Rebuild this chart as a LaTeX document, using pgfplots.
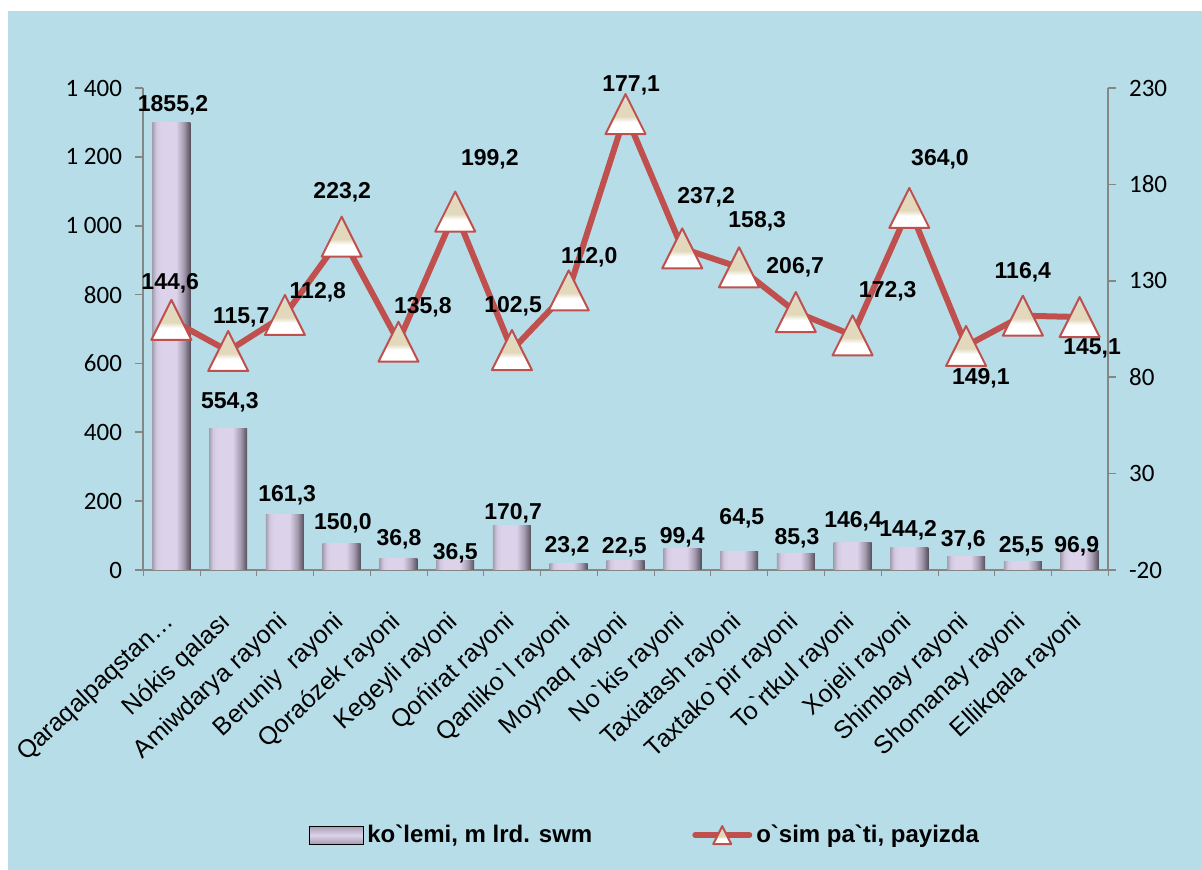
\documentclass[border=0pt]{standalone}
\usepackage{pgfplots}
\pgfplotsset{compat=1.18}
\usepackage{fontspec}
\setmainfont{Liberation Sans}
\newfontfamily\carlito{Carlito}
\definecolor{bgblue}{HTML}{B7DDE8}
\definecolor{linered}{HTML}{C0504D}
\definecolor{axgray}{HTML}{868686}
\definecolor{bA}{HTML}{A59FB0}
\definecolor{bB}{HTML}{D2C8E0}
\definecolor{bC}{HTML}{DCD2EA}
\definecolor{bD}{HTML}{A69DB2}
\definecolor{bE}{HTML}{55505C}
\definecolor{mbeige}{HTML}{E2D8BC}
\definecolor{mblue}{HTML}{C8E6EE}
\pgfdeclarehorizontalshading{barshade}{100bp}{color(0bp)=(bA); color(25bp)=(bA); color(30bp)=(bB); color(36bp)=(bC); color(56bp)=(bC); color(66bp)=(bD); color(75bp)=(bE); color(100bp)=(bE)}
\pgfdeclareverticalshading{markshade}{100bp}{color(0bp)=(white); color(25bp)=(white); color(40bp)=(white); color(47bp)=(mbeige); color(62bp)=(mbeige); color(75bp)=(mblue); color(100bp)=(mblue)}
\pgfdeclareplotmark{xltri}{%
  \pgfpathmoveto{\pgfqpoint{0pt}{\pgfplotmarksize}}%
  \pgfpathlineto{\pgfqpoint{\pgfplotmarksize}{-\pgfplotmarksize}}%
  \pgfpathlineto{\pgfqpoint{-\pgfplotmarksize}{-\pgfplotmarksize}}%
  \pgfpathclose
  \pgfshadepath{markshade}{0}%
  \pgfpathmoveto{\pgfqpoint{0pt}{\pgfplotmarksize}}%
  \pgfpathlineto{\pgfqpoint{\pgfplotmarksize}{-\pgfplotmarksize}}%
  \pgfpathlineto{\pgfqpoint{-\pgfplotmarksize}{-\pgfplotmarksize}}%
  \pgfpathclose
  \pgfusepathqstroke
}
\pgfplotsset{
  linelegend/.style={legend image code/.code={%
    \draw[##1, mark=none, line cap=round] (0pt,0pt) -- (27pt,0pt);
    \draw[##1, mark size=4.5pt] plot coordinates {(13.5pt,0pt)};}},
  barlegend/.style={legend image code/.code={%
    \fill[top color=bA, bottom color=bD, middle color=bC] (0pt,-4.5pt) rectangle (27pt,4.5pt);}},
  barsty/.style={draw=none, shade, shading=barshade},
}
\newcommand{\bt}{\textasciigrave}
\begin{document}
\begin{tikzpicture}
\fill[white] (-71.5pt,-150pt) rectangle (529.5pt,285pt);
\fill[bgblue] (-67.5pt,-150pt) rectangle (529.5pt,279.5pt);
\begin{axis}[
  scale only axis, width=482.5pt, height=241pt,
  xmin=-0.5, xmax=16.5, ymin=0, ymax=1400,
  axis y line*=left, axis x line*=bottom,
  axis line style={axgray, line width=0.8pt},
  ytick={0,200,...,1400},
  xtick={0,...,16},
  xticklabels={Qaraqalpaqstan…, Nókis qalası, Amiwdarya rayoni, Beruniy\ \ rayoni, Qoraózek rayoni, Kegeyli rayoni, Qońirat rayoni, Qanliko\bt l rayoni, Moynaq rayoni, No\bt kis rayoni, Taxiatash rayoni, Taxtako\bt pir rayoni, To\bt rtkul rayoni, Xojeli rayoni, Shimbay rayoni, Shomanay rayoni, Ellikqala rayoni},
  major x tick style={draw=none},
  minor xtick={-0.5,0.5,...,16.5},
  minor tick length=3pt,
  minor x tick style={axgray},
  tick align=outside,
  major tick length=4pt,
  ytick style={axgray, line width=0.8pt},
  /pgf/number format/assume math mode=true,
  /pgf/number format/1000 sep={\ },
  yticklabel style={font=\carlito\fontsize{12.5}{14}\selectfont, xshift=-3pt},
  xticklabel style={font=\fontsize{12.5}{14}\selectfont, yshift=-18pt, xshift=2pt, rotate=43, anchor=east},
  clip=false,
  ybar, bar width=19pt, bar shift=0pt,
]
\addplot[barsty] coordinates {(0,1300)};
\addplot[barsty] coordinates {(1,412)};
\addplot[barsty] coordinates {(2,160)};
\addplot[barsty] coordinates {(3,78)};
\addplot[barsty] coordinates {(4,32)};
\addplot[barsty] coordinates {(5,29)};
\addplot[barsty] coordinates {(6,129)};
\addplot[barsty] coordinates {(7,19)};
\addplot[barsty] coordinates {(8,27)};
\addplot[barsty] coordinates {(9,62)};
\addplot[barsty] coordinates {(10,55)};
\addplot[barsty] coordinates {(11,49)};
\addplot[barsty] coordinates {(12,81)};
\addplot[barsty] coordinates {(13,64)};
\addplot[barsty] coordinates {(14,38)};
\addplot[barsty] coordinates {(15,24)};
\addplot[barsty] coordinates {(16,58)};
\begin{scope}[font=\bfseries\fontsize{11.5}{13}\selectfont]
\node at (axis cs:0.03,1350.6) {1855,2};
\node at (axis cs:1.03,488) {554,3};
\node at (axis cs:2.04,218) {161,3};
\node at (axis cs:3.02,136.5) {150,0};
\node at (axis cs:4.01,90) {36,8};
\node at (axis cs:5.00,49) {36,5};
\node at (axis cs:6.02,165.6) {170,7};
\node at (axis cs:6.97,70) {23,2};
\node at (axis cs:7.98,67) {22,5};
\node at (axis cs:9.0,96) {99,4};
\node at (axis cs:10.05,151) {64,5};
\node at (axis cs:11.02,93) {85,3};
\node at (axis cs:12.01,142) {146,4};
\node at (axis cs:12.98,116) {144,2};
\node at (axis cs:13.95,87) {37,6};
\node at (axis cs:14.97,70) {25,5};
\node at (axis cs:15.95,70) {96,9};
\end{scope}
\end{axis}
\begin{axis}[
  scale only axis, width=482.5pt, height=241pt,
  xmin=-0.5, xmax=16.5, ymin=-20, ymax=230,
  axis y line*=right, axis x line=none,
  axis line style={axgray, line width=0.8pt},
  ytick={-20,30,...,230},
  tick align=outside,
  major tick length=4pt,
  ytick style={axgray, line width=0.8pt},
  /pgf/number format/assume math mode=true,
  yticklabel style={font=\carlito\fontsize{12.5}{14}\selectfont, xshift=3pt},
  clip=false,
  legend columns=2,
  legend style={at={(0.521,-0.55)}, anchor=center, draw=none, fill=none,
    font=\bfseries\fontsize{12}{14}\selectfont,
    /tikz/every even column/.append style={column sep=48pt}},
]
\addlegendimage{barlegend}
\addlegendentry{ko\bt lemi, m lrd. swm}
\addplot[linered, line width=3pt, line join=round, mark=xltri, mark size=10pt,
  mark options={draw=linered, line width=1pt, solid}, linelegend]
 coordinates {
 (0,109.7) (1,93.6) (2,112.3) (3,152.9) (4,98.4) (5,165.9) (6,94.1) (7,125) (8,216.5) (9,146.8) (10,137) (11,113.8) (12,101.7) (13,167.8) (14,96.2) (15,111.9) (16,111.2)};
\addlegendentry{o\bt sim pa\bt ti, payizda}
\begin{scope}[font=\bfseries\fontsize{11.5}{13}\selectfont]
\node at (axis cs:-0.02,128.9) {144,6};
\node at (axis cs:1.23,111.2) {115,7};
\node at (axis cs:2.58,124.2) {112,8};
\node at (axis cs:3.01,176.1) {223,2};
\node at (axis cs:4.43,116.4) {135,8};
\node at (axis cs:5.61,193.2) {199,2};
\node at (axis cs:6.02,116.9) {102,5};
\node at (axis cs:7.36,142.3) {112,0};
\node at (axis cs:8.10,231.6) {177,1};
\node at (axis cs:9.42,173.5) {237,2};
\node at (axis cs:10.32,161.0) {158,3};
\node at (axis cs:10.99,137.2) {206,7};
\node at (axis cs:12.62,124.7) {172,3};
\node at (axis cs:13.54,193.2) {364,0};
\node at (axis cs:15.0,134.6) {116,4};
\node at (axis cs:16.22,95.1) {145,1};
\node at (axis cs:14.26,79.6) {149,1};
\end{scope}
\end{axis}
\end{tikzpicture}
\end{document}
